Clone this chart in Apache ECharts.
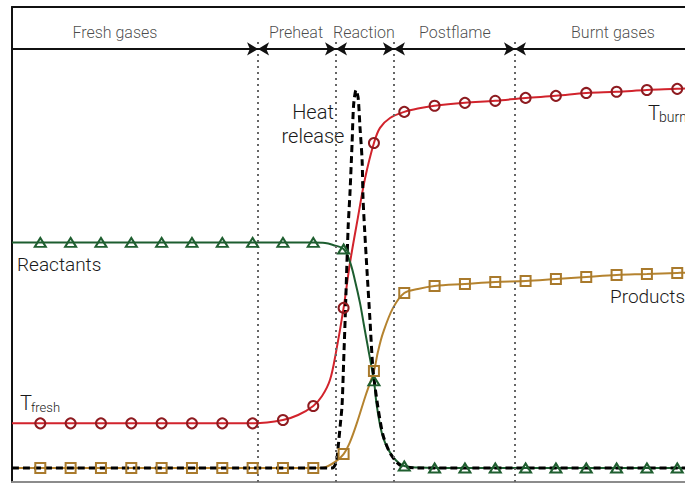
<!DOCTYPE html>
<html>
<head>
<meta charset="utf-8">
<script src="https://cdn.jsdelivr.net/npm/echarts@6/dist/echarts.min.js"></script>
<style>
html,body{margin:0;padding:0;background:#fff;}
#c{width:685px;height:484px;}
</style>
</head>
<body>
<div id="c"></div>
<script>
// ---- axis ranges (normalised units: 0 = fresh baseline, 1 = reactant level) ----
const XMIN = 0.067, XMAX = 22.256;
const YMIN = -0.062, YMAX = 2.044;

// ---- marker positions and values ----
const markerX = [1,2,3,4,5,6,7,8,9,10,11,12,13,14,15,16,17,18,19,20,21,22];
const tempMarkers = [0.198,0.198,0.198,0.198,0.198,0.198,0.198,0.198,0.213,0.275,0.710,1.441,1.579,1.606,1.619,1.628,1.641,1.650,1.663,1.668,1.676,1.681];
const reactantMarkers = [1,1,1,1,1,1,1,1,1,1,0.971,0.386,0.009,0,0,0,0,0,0,0,0,0];
const productMarkers = [0,0,0,0,0,0,0,0,0,0,0.062,0.430,0.776,0.807,0.816,0.825,0.829,0.838,0.847,0.856,0.860,0.865];

// ---- continuous curves ----
const tempCurve = [[0.067,0.198],[8,0.198],[9,0.213],[9.5,0.235],[10,0.275],[10.29,0.319],[10.55,0.390],[10.75,0.514],[11,0.710],[11.21,0.909],[11.47,1.109],[11.71,1.286],[12,1.441],[12.2,1.508],[12.53,1.552],[13,1.579],[13.45,1.594],[14,1.606],[15,1.619],[16,1.628],[17,1.641],[18,1.650],[19,1.663],[20,1.668],[21,1.676],[22,1.681],[22.256,1.683]];
const reactantCurve = [[0.067,1],[10,1],[10.39,0.998],[10.65,0.989],[11,0.971],[11.21,0.914],[11.37,0.834],[11.54,0.732],[11.67,0.634],[11.8,0.537],[12,0.386],[12.1,0.271],[12.3,0.137],[12.63,0.049],[13,0.009],[13.51,0.002],[14,0],[22.256,0]];
const productCurve = [[0.067,0],[10,0],[10.39,0.004],[10.72,0.027],[11,0.062],[11.21,0.115],[11.44,0.2],[11.71,0.315],[12,0.43],[12.13,0.514],[12.3,0.599],[12.63,0.71],[13,0.776],[13.45,0.794],[14,0.807],[15,0.816],[16,0.825],[17,0.829],[18,0.838],[19,0.847],[20,0.856],[21,0.860],[22,0.865],[22.256,0.866]];
const heatCurve = [[0.067,0],[10.62,0],[10.76,0.027],[10.82,0.093],[10.89,0.191],[10.95,0.279],[11.0,0.466],[11.05,0.656],[11.15,1.068],[11.21,1.219],[11.28,1.441],[11.33,1.610],[11.41,1.676],[11.48,1.641],[11.54,1.512],[11.61,1.366],[11.64,1.197],[11.69,1.064],[11.77,0.878],[11.87,0.656],[11.97,0.435],[12.13,0.271],[12.30,0.146],[12.53,0.067],[12.86,0.013],[13.42,0],[22.256,0]];

// ---- zones ----
const zoneBounds = [8.18, 10.75, 12.66, 16.65];
const zoneNames = ['Fresh gases','Preheat','Reaction','Postflame','Burnt gases'];
const zoneLabelX = [3.46, 9.43, 11.67, 14.67, 19.88];
const HEADER_Y = 1.858, LABEL_Y = 1.933, DOT_TOP = 1.889;

const FONT = 'Roboto, "Liberation Sans", sans-serif';
const RED = '#d2232c', RED_M = '#8e1b20';
const GREEN = '#1c5d2f', GREEN_M = '#1f5f30';
const BROWN = '#b5832f', BROWN_M = '#a97a2c';

const chart = echarts.init(document.getElementById('c'), null, {renderer: 'svg'});

const edges = [XMIN].concat(zoneBounds, [XMAX]);
const headerLines = [];
for (let i = 0; i < edges.length - 1; i++) {
  headerLines.push([
    {coord: [edges[i], HEADER_Y], symbol: i === 0 ? 'none' : 'arrow'},
    {coord: [edges[i + 1], HEADER_Y], symbol: i === edges.length - 2 ? 'none' : 'arrow'}
  ]);
}
const dottedLines = zoneBounds.map(b => [{coord: [b, YMIN]}, {coord: [b, DOT_TOP]}]);

const hidden = {axisTick: {show: false}, axisLabel: {show: false}, splitLine: {show: false}};

function markers(vals, symbol, size, color) {
  return {
    type: 'scatter', silent: true, z: 6,
    data: markerX.map((x, i) => [x, vals[i]]),
    symbol: symbol, symbolSize: size,
    itemStyle: {color: 'rgba(0,0,0,0)', borderColor: color, borderWidth: 2, opacity: 1}
  };
}
function curve(data, color, extra) {
  return Object.assign({
    type: 'line', data: data, showSymbol: false, symbol: 'none', silent: true,
    smooth: 0.35, z: 3,
    lineStyle: {color: color, width: 2}
  }, extra || {});
}

const option = {
  animation: false,
  backgroundColor: '#ffffff',
  grid: {left: 12, right: 0, top: 7, bottom: 2},
  xAxis: [
    Object.assign({type: 'value', min: XMIN, max: XMAX, position: 'bottom',
      axisLine: {show: true, onZero: false, lineStyle: {color: '#8c8c8c', width: 2}}}, hidden),
    Object.assign({type: 'value', min: XMIN, max: XMAX, position: 'top',
      axisLine: {show: true, onZero: false, lineStyle: {color: '#111', width: 2}}}, hidden)
  ],
  yAxis: Object.assign({type: 'value', min: YMIN, max: YMAX,
    axisLine: {show: true, onZero: false, lineStyle: {color: '#111', width: 2}}}, hidden),
  series: [
    curve(productCurve, BROWN, {
      markLine: {silent: true, symbol: 'none', label: {show: false},
        lineStyle: {color: '#666', width: 2, type: [2, 4]}, data: dottedLines}
    }),
    curve(tempCurve, RED),
    curve(reactantCurve, GREEN, {
      markLine: {silent: true, symbol: ['arrow', 'arrow'], symbolSize: [10, 11], label: {show: false},
        lineStyle: {color: '#111', width: 2, type: 'solid'}, data: headerLines}
    }),
    curve(heatCurve, '#000', {z: 4, smooth: 0.25, lineStyle: {color: '#000', width: 3, type: [7, 4]}}),
    markers(tempMarkers, 'circle', 10, RED_M),
    markers(reactantMarkers, 'triangle', [11, 9], GREEN_M),
    markers(productMarkers, 'rect', 10, BROWN_M),
    {
      type: 'scatter', silent: true, z: 7,
      data: zoneLabelX.map((x, i) => ({value: [x, LABEL_Y], name: zoneNames[i]})),
      symbolSize: 1, itemStyle: {color: 'rgba(0,0,0,0)'},
      label: {show: true, position: 'inside', formatter: '{b}', fontSize: 16,
        fontFamily: FONT, fontWeight: 300, color: '#1a1a1a'}
    }
  ],
  graphic: [
    {type: 'text', x: 17, y: 264, style: {text: 'Reactants', font: '300 19px ' + FONT, fill: '#1a1a1a', verticalAlign: 'middle'}},
    {type: 'text', x: 20, y: 403, style: {text: 'T', font: '300 20px ' + FONT, fill: '#1a1a1a', verticalAlign: 'middle'}},
    {type: 'text', x: 31, y: 407, style: {text: 'fresh', font: '300 13px ' + FONT, fill: '#1a1a1a', verticalAlign: 'middle'}},
    {type: 'text', x: 313, y: 112, style: {text: 'Heat', font: '300 20px ' + FONT, fill: '#1a1a1a', align: 'center', verticalAlign: 'middle'}},
    {type: 'text', x: 313, y: 136, style: {text: 'release', font: '300 20px ' + FONT, fill: '#1a1a1a', align: 'center', verticalAlign: 'middle'}},
    {type: 'text', x: 648, y: 113, style: {text: 'T', font: '300 20px ' + FONT, fill: '#1a1a1a', verticalAlign: 'middle'}},
    {type: 'text', x: 659, y: 117, style: {text: 'burnt', font: '300 14px ' + FONT, fill: '#1a1a1a', verticalAlign: 'middle'}},
    {type: 'text', x: 610, y: 296, style: {text: 'Products', font: '300 19px ' + FONT, fill: '#1a1a1a', verticalAlign: 'middle'}}
  ]
};
chart.setOption(option);
</script>
</body>
</html>
